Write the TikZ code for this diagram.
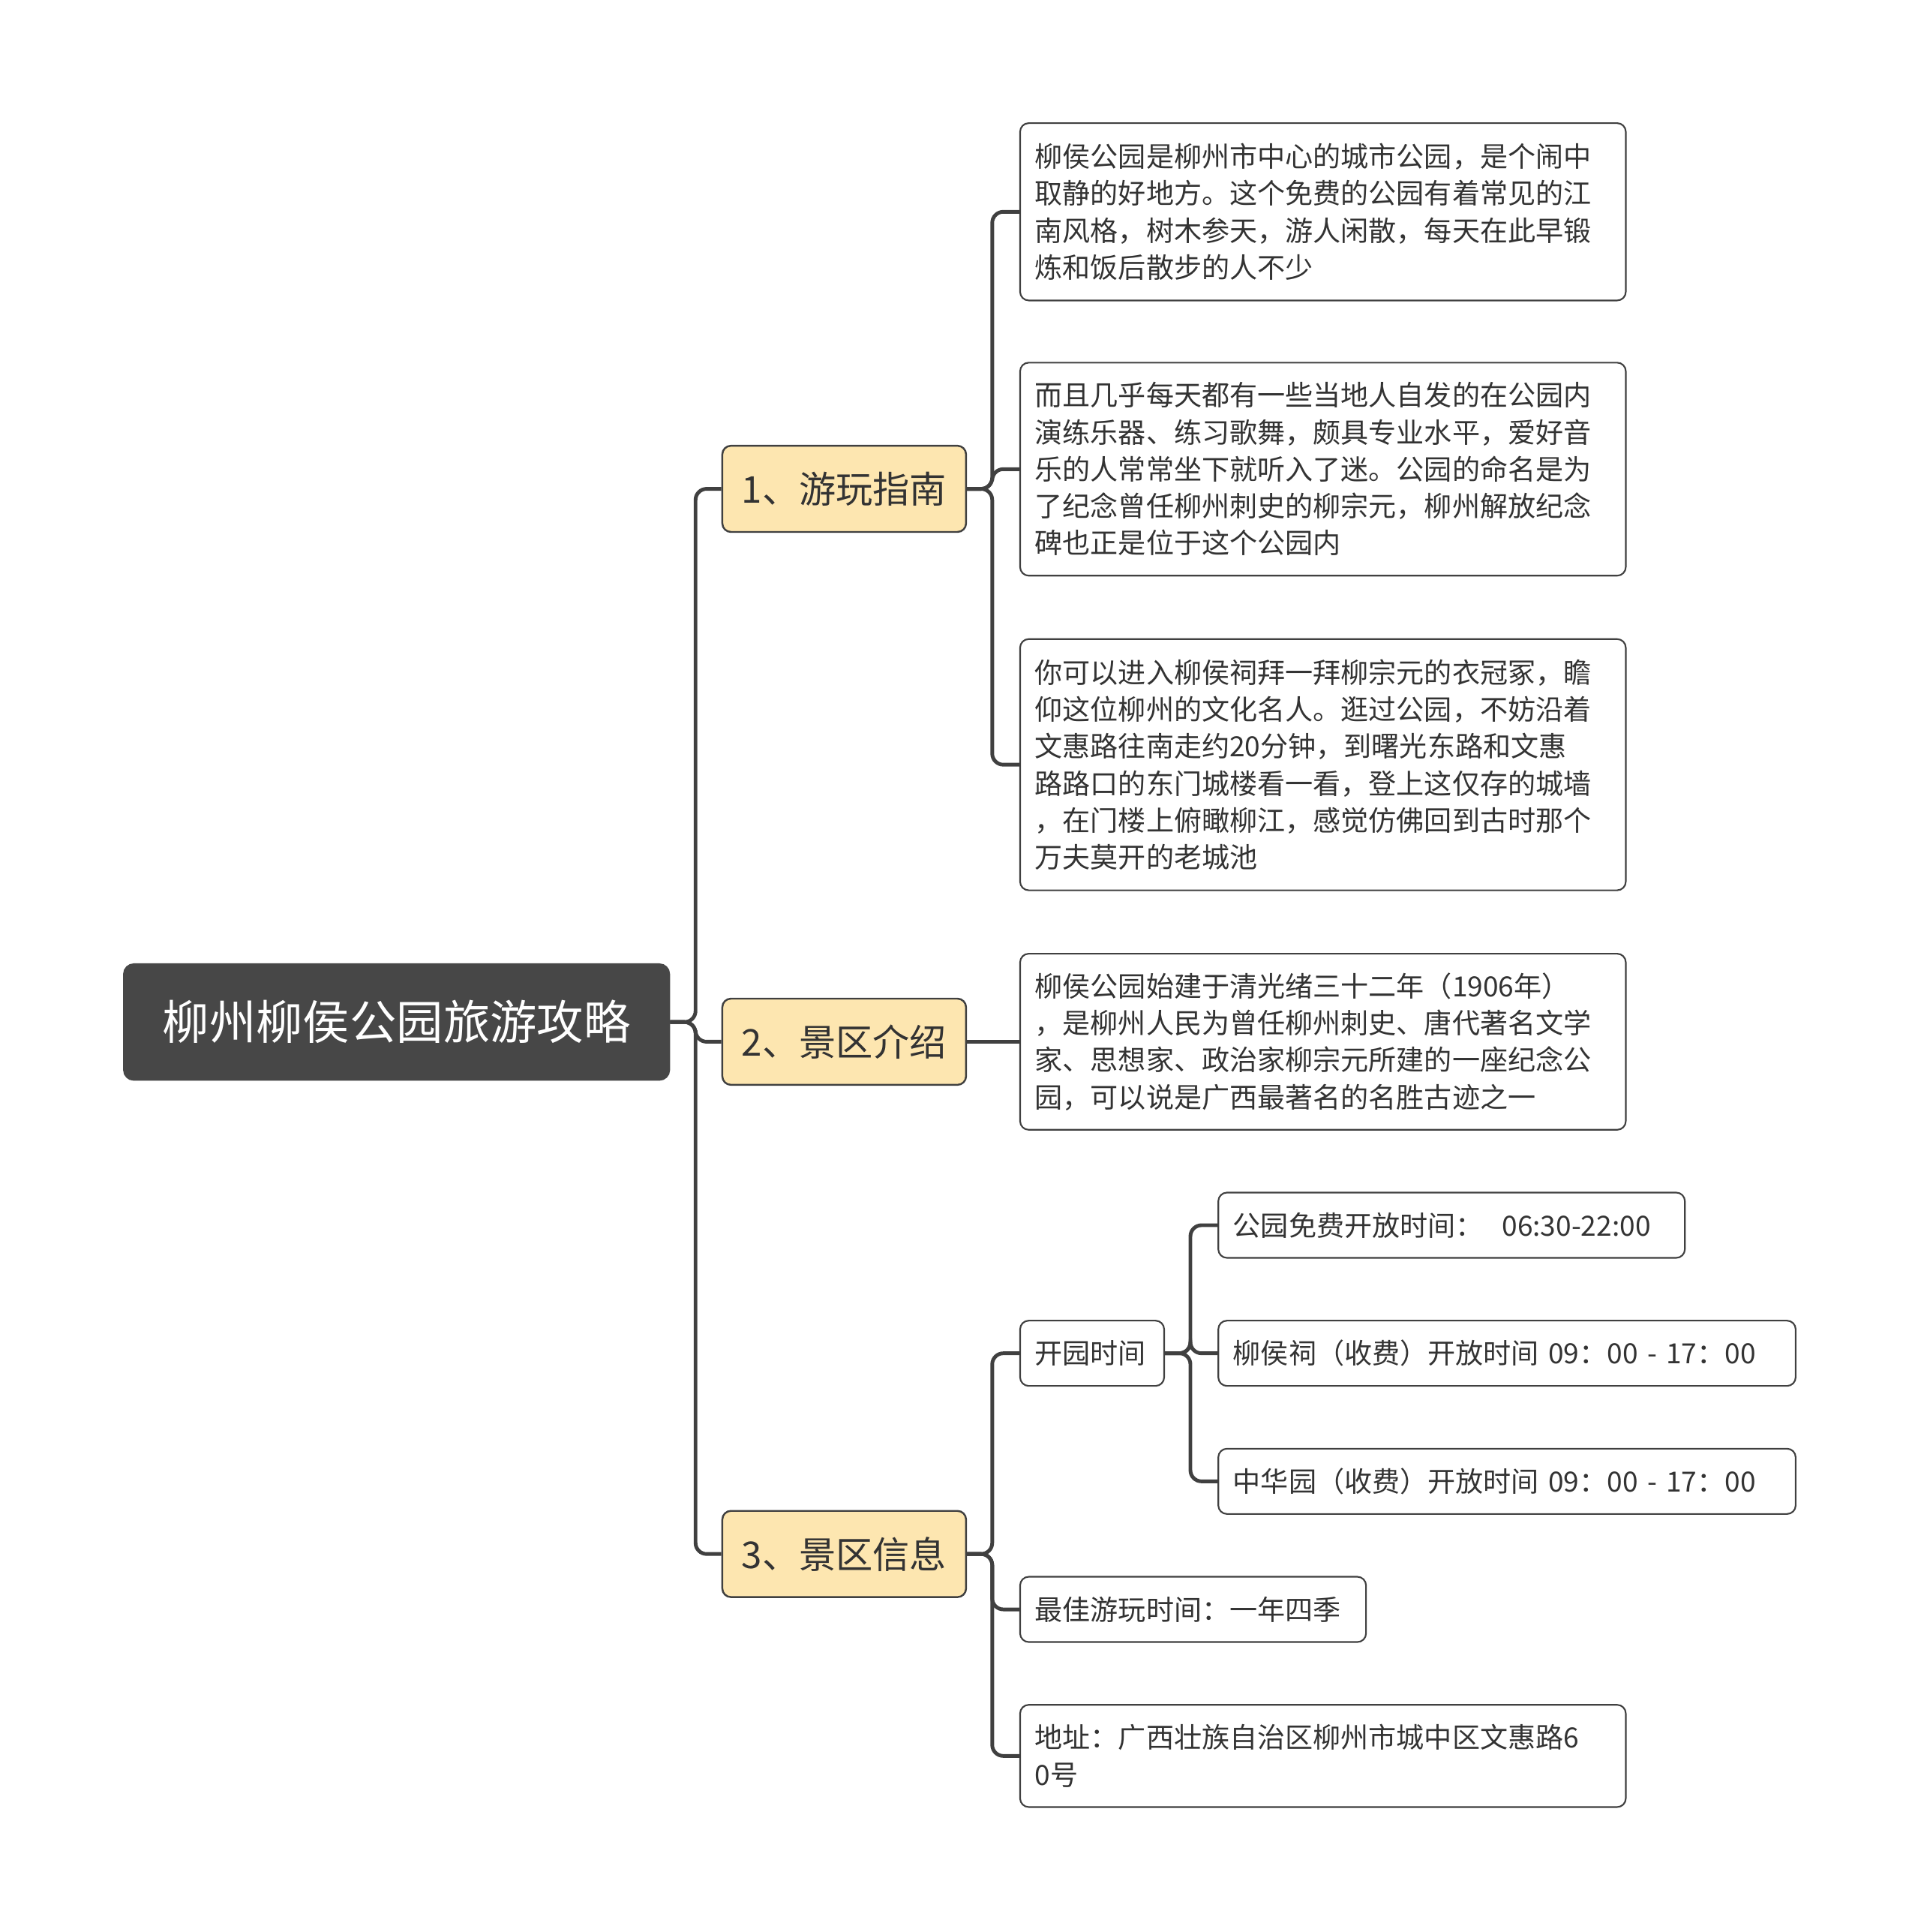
\documentclass[tikz,border=0pt]{standalone}
\usepackage{fontspec}
\setmainfont{Noto Sans CJK SC}
\definecolor{lv}{HTML}{FDE6B0}
\begin{document}
\begin{tikzpicture}[x=1pt,y=-1pt,
 box/.style={draw=black!75,line width=1.3pt,rounded corners=7pt,anchor=west,inner xsep=12pt,inner ysep=0pt,align=left,text=black!80,font=\fontsize{22.6}{30}\selectfont},
 lvl/.style={box,fill=lv,font=\fontsize{30}{36}\selectfont,align=center,minimum width=198pt,minimum height=70pt,line width=1.5pt},
 con/.style={draw=black!75,line width=3pt,rounded corners=9pt}]
\useasboundingbox (0,0) rectangle (1560,1569);
\node[box,fill=black!72,draw=black!72,text=white,font=\fontsize{38}{44}\selectfont,minimum width=443pt,minimum height=94pt,align=center,rounded corners=8pt] (root) at (100,830) {柳州柳侯公园旅游攻略};
\node[lvl] (a) at (586,397) {1、游玩指南};
\node[lvl] (b) at (586,846) {2、景区介绍};
\node[lvl] (c) at (586,1262) {3、景区信息};
\node[box,minimum width=492pt,minimum height=144pt,text width=468pt] (a1) at (828,172) {柳侯公园是柳州市中心的城市公园，是个闹中\\取静的好地方。这个免费的公园有着常见的江\\南风格，树木参天，游人闲散，每天在此早锻\\炼和饭后散步的人不少};
\node[box,minimum width=492pt,minimum height=173pt,text width=468pt] (a2) at (828,381) {而且几乎每天都有一些当地人自发的在公园内\\演练乐器、练习歌舞，颇具专业水平，爱好音\\乐的人常常坐下就听入了迷。公园的命名是为\\了纪念曾任柳州刺史的柳宗元，柳州解放纪念\\碑也正是位于这个公园内};
\node[box,minimum width=492pt,minimum height=204pt,text width=468pt] (a3) at (828,621) {你可以进入柳侯祠拜一拜柳宗元的衣冠冢，瞻\\仰这位柳州的文化名人。逛过公园，不妨沿着\\文惠路往南走约20分钟，到曙光东路和文惠\\路路口的东门城楼看一看，登上这仅存的城墙\\，在门楼上俯瞰柳江，感觉仿佛回到古时那个\\万夫莫开的老城池};
\node[box,minimum width=492pt,minimum height=143pt,text width=468pt] (b1) at (828,846) {柳侯公园始建于清光绪三十二年（1906年）\\，是柳州人民为曾任柳州刺史、唐代著名文学\\家、思想家、政治家柳宗元所建的一座纪念公\\园，可以说是广西最著名的名胜古迹之一};
\node[box,minimum width=117pt,minimum height=53pt,text width=93pt] (c1) at (828,1099) {开园时间};
\node[box,minimum width=379pt,minimum height=53pt,text width=355pt] (t1) at (989,995) {公园免费开放时间：\ \ 06:30-22:00};
\node[box,minimum width=469pt,minimum height=53pt,text width=445pt] (t2) at (989,1099) {柳侯祠（收费）开放时间 09：00 - 17：00};
\node[box,minimum width=469pt,minimum height=53pt,text width=445pt] (t3) at (989,1203) {中华园（收费）开放时间 09：00 - 17：00};
\node[box,minimum width=281pt,minimum height=53pt,text width=257pt] (c2) at (828,1307) {最佳游玩时间：一年四季};
\node[box,minimum width=492pt,minimum height=83pt,text width=468pt] (c3) at (828,1426) {地址：广西壮族自治区柳州市城中区文惠路6\\0号};
\foreach \n in {a,b,c} \draw[con] (root.east) -- (565,830) |- (\n.west);
\foreach \n in {a1,a2,a3} \draw[con] (a.east) -- (806,397) |- (\n.west);
\draw[con] (b.east) -- (b1.west);
\foreach \n in {c1,c2,c3} \draw[con] (c.east) -- (806,1262) |- (\n.west);
\foreach \n in {t1,t2,t3} \draw[con] (c1.east) -- (967,1099) |- (\n.west);
\end{tikzpicture}
\end{document}
